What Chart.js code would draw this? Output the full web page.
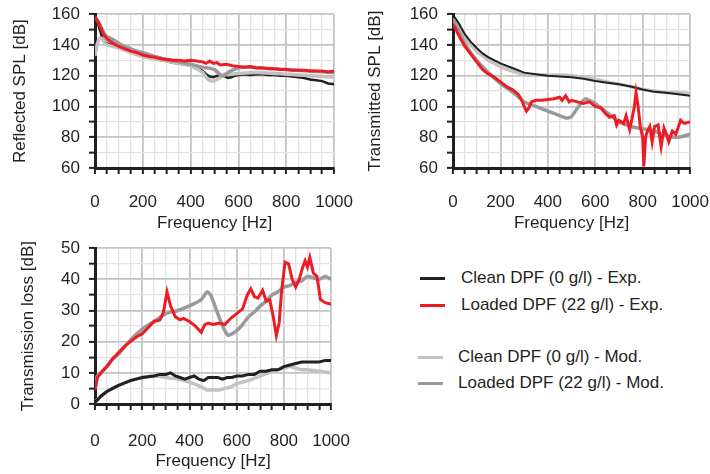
<!DOCTYPE html>
<html>
<head>
<meta charset="utf-8">
<script src="https://cdn.jsdelivr.net/npm/chart.js@4.4.1/dist/chart.umd.min.js"></script>
<style>
  body { margin: 0; background: #fff; width: 710px; height: 474px; position: relative; overflow: hidden;
         font-family: 'Liberation Sans', Arial, sans-serif; color: #231f20; }
  canvas { position: absolute; }
  .leg { position: absolute; font-size: 17px; line-height: 20px; white-space: nowrap; }
  .leg span { position: absolute; height: 3px; width: 25px; top: 9px; }
</style>
</head>
<body>
<canvas id="refl" width="371" height="240" style="left:0;top:-5px"></canvas>
<canvas id="trans" width="369" height="240" style="left:358px;top:-5px"></canvas>
<canvas id="tl" width="371" height="244" style="left:0;top:229px"></canvas>
<div id="legend"></div>
<script>
// Series names / colours
const seriesNames = ['Clean DPF (0 g/l) - Exp.', 'Loaded DPF (22 g/l) - Exp.', 'Clean DPF (0 g/l) - Mod.', 'Loaded DPF (22 g/l) - Mod.'];
const ink = '#231f20';
const red = '#ed1c24';
const lightGray = '#c2c2c2';
const darkGray = '#9a9a9a';

// Reflected SPL [dB]
const reflCleanExpHz = [0,10,20,30,40,50,75,100,125,150,175,200,225,250,275,300,325,350,375,400,425,450,465,480,495,510,525,540,555,570,585,600,625,650,675,700,725,750,775,800,825,850,875,900,925,950,975,1000];
const reflCleanExpDb = [158,155,150,145,142,141,139.5,138,137,135.5,134.5,133,132,131,130,129.5,128.5,128,127.5,127,125.5,123,121,119.5,119,120,119.5,120,118.5,119,120,120.5,121,120.5,121,121,120.5,120.5,120,120,119.5,119,118.5,117.5,117,116.5,115,114.5];
const reflLoadedExpHz = [0,10,20,30,40,50,75,100,125,150,175,200,225,250,275,300,325,350,375,400,425,450,465,480,495,510,525,550,575,600,625,650,675,700,725,750,775,800,825,850,875,900,925,950,975,1000];
const reflLoadedExpDb = [158,156,153,149,146,144,141,139,137.5,136,135,133.5,132.5,132,131,130.5,130,130,129.5,130,129.5,129,128,129.5,128,128.5,127,127.5,126.5,126,125.5,126,125,125,124.5,124.5,124,124,123.5,123.5,123.5,123,123,123,122.5,123];
const reflCleanModHz = [0,5,10,20,30,40,50,75,100,150,200,250,300,350,400,425,450,465,480,495,510,525,540,555,575,600,650,700,750,800,850,900,950,1000];
const reflCleanModDb = [133,137,141,144.5,144,141.5,140,139,138,135,132.5,131,129.5,128,126.5,124.5,122,119,117,116.5,117.5,119,121,121.5,121,121.5,122,122,121.5,121,120.5,120,119.5,119];
const reflLoadedModHz = [0,10,20,30,40,50,75,100,125,150,175,200,250,300,350,400,425,450,475,500,515,530,545,560,580,600,625,650,700,750,800,850,900,950,1000];
const reflLoadedModDb = [158,156,153,150,147,145.5,143.5,141,139,137.5,136,135,132.5,130.5,129,127.5,126.5,125.5,125,124,122,120,120.5,122.5,124,125,125.5,125.5,125,124.5,124,123.5,123,122.5,122];

// Transmitted SPL [dB]
const transCleanExpHz = [0,10,25,50,75,100,125,150,175,200,250,300,350,400,450,500,550,600,650,700,750,800,850,900,950,1000];
const transCleanExpDb = [159,157.5,154,147,142,138,134.5,132,130,128,125,122,121,120,119.5,119,118,116.5,115.5,114.5,113,111,109.5,109,108,107];
const transLoadedExpHz = [0,10,25,50,75,100,125,150,175,200,225,250,275,290,300,310,320,330,350,375,400,425,450,460,475,490,500,525,550,575,600,625,640,660,680,690,700,720,730,745,755,765,772,780,790,800,805,812,820,830,840,850,865,878,890,900,910,925,940,960,975,1000];
const transLoadedExpDb = [153,151,146,139,134,129,124,121,119,116,113,111,108,104,100,97,99,103,104,104,104.5,105,106,104,107,103,104,103,102,103,100,99,96,93,94,88,91,89,94,85,92,100,109,101,87,80,61,80,84,87,77,87,88,74,86,82,77,84,82,91,89,90];
const transCleanModHz = [0,10,25,50,75,100,125,150,175,200,250,300,350,400,450,500,550,600,650,700,750,800,850,900,950,1000];
const transCleanModDb = [157,155.5,152,145,140,136,133,130,128,126,123,121,120.5,120.5,120.5,120,119,117.5,116,114.5,113,111,110,109,109,108.5];
const transLoadedModHz = [0,10,25,50,75,100,150,200,250,300,350,400,450,480,500,525,550,560,575,600,650,700,750,800,850,900,950,1000];
const transLoadedModDb = [157,154,149,141,135,130,122,115,109.5,103,100,97,94,92.5,93.5,99,104,105,104,102,96,90,87,85.5,84,81,80,82];

// Transmission loss [dB]
const tlCleanExpHz = [0,25,50,75,100,150,200,250,275,300,320,340,360,380,400,420,440,460,480,500,520,540,560,580,600,625,650,675,700,725,750,775,800,825,850,875,900,925,950,975,1000];
const tlCleanExpDb = [0.5,2.5,4,5,6,7.5,8.5,9,9.5,9.5,10,9,8.5,8,8.5,9,8,7.5,8.5,8.5,8.5,8,8.5,8.5,9,9,9.5,9.5,10.5,10.5,11,11,12,12.5,13,13.5,13.5,13.5,13.5,14,14];
const tlLoadedExpHz = [0,10,25,50,75,100,125,150,175,200,225,250,275,290,305,320,340,360,375,400,425,450,465,480,500,525,550,575,600,625,645,660,675,690,710,725,740,755,768,780,790,805,820,835,850,865,880,890,900,910,925,940,955,975,1000];
const tlLoadedExpDb = [4.5,8.5,10,12,14.5,16.5,18.5,20,21.5,22.5,24.5,26.5,27,29.5,36,31.5,28,27,27.5,26.5,25,23,25.5,26,25.5,26,25.5,27.5,29,30.5,35,37,34.5,34,36.5,33,33.5,28,22,26,36,45.5,45,40,37.5,40,44,46,44,47,42,41,33.5,32.5,32];
const tlCleanModHz = [0,25,50,75,100,150,200,250,300,350,400,450,475,500,525,550,575,600,650,700,750,800,825,850,875,900,950,1000];
const tlCleanModDb = [0.5,2.5,4,5,6,7.5,8.5,9,8.5,8,7,5.5,4.5,4.5,4.5,5,5.5,6.5,7.5,9,10.5,11.5,12,11.5,11,11,10.5,10];
const tlLoadedModHz = [0,10,25,50,75,100,150,200,250,300,350,400,450,475,490,510,530,550,565,580,600,625,650,675,700,725,750,775,800,825,850,875,900,925,950,975,1000];
const tlLoadedModDb = [5,9,10,12,14.5,16,20.5,24,26.5,29,30,31.5,33.5,36,35,31,27,23.5,22,22.5,23.5,25.5,28,29.5,31.5,33,35,36,37.5,38,39,39.5,41,40.5,40,41,40];

const freqTicks = [0, 200, 400, 600, 800, 1000];

Chart.defaults.font.family = "'Liberation Sans', Arial, sans-serif";
Chart.defaults.font.size = 17;
Chart.defaults.color = ink;

function pts(hz, db) {
    return hz.map((f, i) => ({ x: f, y: db[i] }));
}

function line(hz, db, color, width, tension) {
    return {
        data: pts(hz, db),
        borderColor: color,
        borderWidth: width,
        pointRadius: 0,
        tension: tension,
        fill: false
    };
}

function makePlot(id, sets, yMin, yMax, yStep, yLabelStep, yTitle, opts) {
    const isMajorX = v => freqTicks.includes(v);
    return new Chart(document.getElementById(id), {
        type: 'line',
        data: { datasets: sets },
        options: {
            responsive: false,
            animation: false,
            devicePixelRatio: 1,
            layout: { padding: { top: 7, right: 0, bottom: 1, left: 0 } },
            plugins: { legend: { display: false }, tooltip: { enabled: false } },
            scales: {
                x: {
                    type: 'linear', min: 0, max: 1000,
                    afterFit: s => { s.height = opts.xHeight; },
                    border: { color: ink, width: 3 },
                    grid: {
                        color: c => isMajorX(c.tick.value) ? '#c4c4c4' : '#e2e2e2',
                        lineWidth: c => isMajorX(c.tick.value) ? 1.8 : 1.3,
                        tickColor: ink, tickWidth: 2, tickLength: 6
                    },
                    ticks: {
                        stepSize: 50, autoSkip: false, maxRotation: 0, padding: opts.xPad,
                        callback: v => isMajorX(v) ? v : ''
                    },
                    title: { display: true, text: 'Frequency [Hz]', padding: { top: 0, bottom: 0 } }
                },
                y: {
                    min: yMin, max: yMax,
                    afterFit: s => { s.width = 95; },
                    border: { color: ink, width: 3 },
                    grid: {
                        color: c => c.tick.value % yLabelStep === 0 ? '#c4c4c4' : '#e2e2e2',
                        lineWidth: c => c.tick.value % yLabelStep === 0 ? 1.8 : 1.3,
                        tickColor: ink, tickWidth: 2, tickLength: 6
                    },
                    ticks: {
                        stepSize: yStep, autoSkip: false, padding: opts.yPad,
                        callback: v => v % yLabelStep === 0 ? v : ''
                    },
                    title: { display: true, text: yTitle, padding: { top: opts.yTitlePad, bottom: 0 } }
                }
            }
        }
    });
}

makePlot('refl', [
    line(reflLoadedExpHz, reflLoadedExpDb, red, 3, 0),
    line(reflLoadedModHz, reflLoadedModDb, darkGray, 3.5, 0.2),
    line(reflCleanModHz, reflCleanModDb, lightGray, 3.5, 0.2),
    line(reflCleanExpHz, reflCleanExpDb, ink, 2.5, 0)
], 60, 160, 10, 20, 'Reflected SPL [dB]', { xHeight: 66, xPad: 18, yPad: 9, yTitlePad: 10 });

makePlot('trans', [
    line(transLoadedExpHz, transLoadedExpDb, red, 3, 0),
    line(transCleanExpHz, transCleanExpDb, ink, 2, 0),
    line(transLoadedModHz, transLoadedModDb, darkGray, 3.5, 0.2),
    line(transCleanModHz, transCleanModDb, lightGray, 3.5, 0.2)
], 60, 160, 10, 20, 'Transmitted SPL [dB]', { xHeight: 66, xPad: 18, yPad: 9, yTitlePad: 7 });

makePlot('tl', [
    line(tlLoadedExpHz, tlLoadedExpDb, red, 3, 0),
    line(tlCleanExpHz, tlCleanExpDb, ink, 3, 0),
    line(tlLoadedModHz, tlLoadedModDb, darkGray, 3.5, 0.2),
    line(tlCleanModHz, tlCleanModDb, lightGray, 3.5, 0.2)
], 0, 50, 5, 10, 'Transmission loss [dB]', { xHeight: 68, xPad: 21, yPad: 9, yTitlePad: 18 });

// Legend (separate panel, bottom right)
const legendColors = [ink, red, lightGray, darkGray];
const legendRows = [
    { top: 268, lineX: 420, textX: 461 },
    { top: 295, lineX: 420, textX: 461 },
    { top: 347, lineX: 418, textX: 458 },
    { top: 373, lineX: 418, textX: 458 }
];
const legend = document.getElementById('legend');
seriesNames.forEach((name, i) => {
    const r = legendRows[i];
    const row = document.createElement('div');
    row.className = 'leg';
    row.style.left = r.lineX + 'px';
    row.style.top = r.top + 'px';
    row.innerHTML = `<span style="left:0;background:${legendColors[i]}"></span>` +
        `<b style="font-weight:normal;position:absolute;left:${r.textX - r.lineX}px">${name}</b>`;
    legend.appendChild(row);
});
</script>
</body>
</html>
